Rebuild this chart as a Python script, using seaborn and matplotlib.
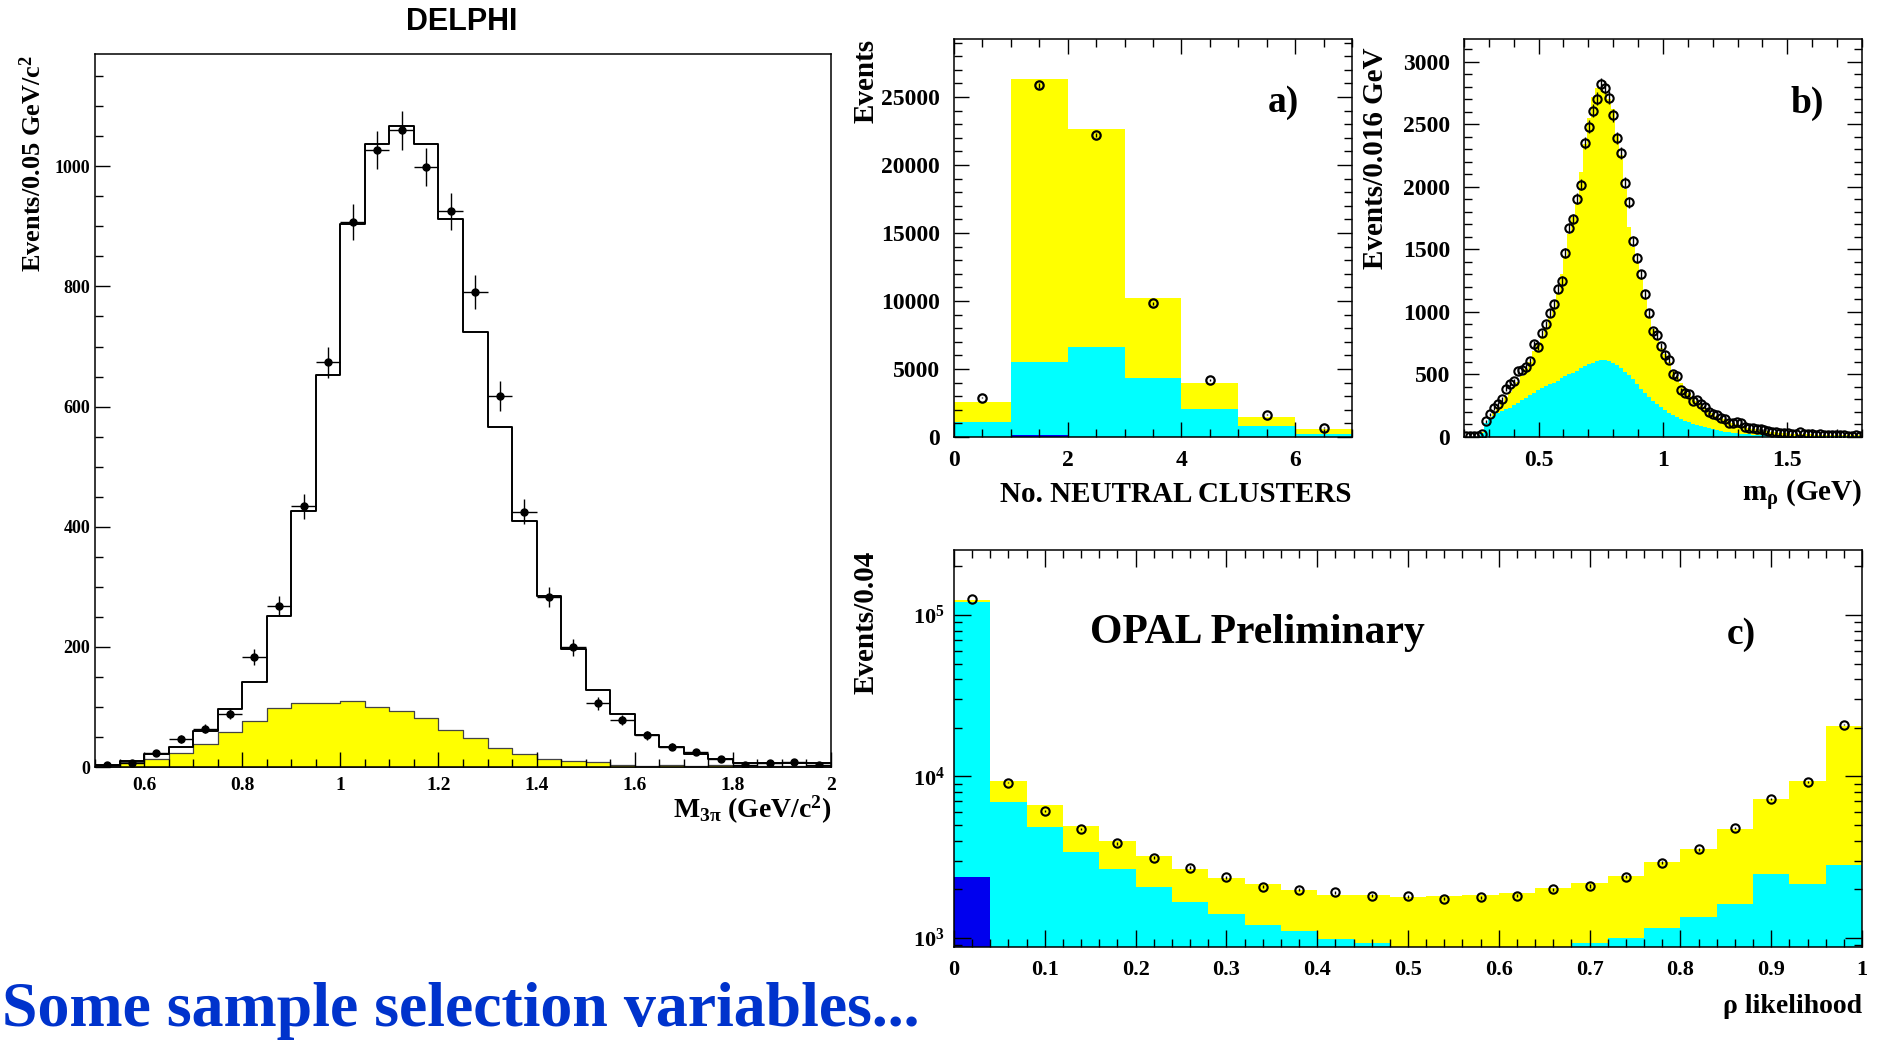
import numpy as np
import pandas as pd
import matplotlib
matplotlib.use("Agg")
import matplotlib.pyplot as plt
import seaborn as sns
from matplotlib.ticker import MultipleLocator, LogLocator, FuncFormatter, NullFormatter

# ---------------- data ----------------
# DELPHI: M_3pi, bins of 0.05 GeV from 0.5 to 2.0
delphi_lo, delphi_hi, delphi_w = 0.5, 2.0, 0.05
delphi_mc = [3, 10, 22, 33, 60, 96, 142, 252, 426, 652,
             904, 1038, 1067, 1037, 912, 724, 566, 410, 284, 196,
             128, 89, 53, 33, 21, 14, 7, 7, 7, 7]
delphi_bkg = [2, 8, 14, 24, 38, 59, 77, 99, 106, 106,
              110, 100, 94, 81, 61, 49, 32, 22, 14, 10,
              8, 4, 2, 3, 2, 3, 2, 2, 2, 2]
delphi_data = [4, 7, 24, 46, 64, 89, 183, 268, 434, 674,
               907, 1027, 1060, 999, 925, 791, 617, 425, 283, 199,
               106, 78, 53, 34, 25, 13, 4, 7, 9, 4]

# OPAL a) number of neutral clusters
a_lo, a_hi, a_w = 0, 7, 1
a_total = [2580, 26350, 22620, 10220, 4000, 1450, 570]
a_cyan = [1100, 5550, 6650, 4350, 2040, 810, 250]
a_blue = [0, 120, 0, 0, 0, 0, 0]
a_data = [2900, 25860, 22180, 9820, 4180, 1650, 690]

# OPAL b) m_rho, bins of 0.016 GeV from 0.2 to 1.8
b_lo, b_hi, b_w = 0.2, 1.8, 0.016
b_data = [8, 8, 10, 10, 20, 125, 180, 232, 267, 300,
          387, 427, 445, 525, 533, 560, 605, 741, 720, 827,
          900, 992, 1064, 1184, 1248, 1472, 1667, 1741, 1904, 2016,
          2347, 2480, 2608, 2704, 2819, 2792, 2709, 2571, 2392, 2267,
          2032, 1877, 1565, 1429, 1301, 1139, 992, 845, 811, 728,
          659, 613, 501, 485, 373, 352, 341, 285, 293, 267,
          240, 200, 187, 173, 155, 147, 115, 112, 120, 115,
          80, 75, 75, 67, 64, 59, 48, 40, 37, 35,
          32, 32, 27, 27, 37, 27, 21, 20, 18, 20,
          17, 15, 14, 15, 12, 12, 10, 10, 12, 10]
b_total = [0, 0, 0, 0, 40, 100, 160, 200, 240, 280,
           320, 360, 400, 440, 490, 540, 600, 690, 740, 810,
           880, 960, 1040, 1140, 1300, 1450, 1620, 1760, 1860, 2120,
           2340, 2550, 2720, 2790, 2790, 2760, 2700, 2620, 2420, 2250,
           1980, 1680, 1520, 1400, 1270, 1100, 960, 860, 780, 710,
           660, 600, 530, 480, 430, 390, 350, 320, 290, 260,
           235, 210, 190, 170, 155, 140, 125, 112, 100, 90,
           82, 74, 67, 60, 55, 50, 45, 41, 37, 34,
           31, 29, 27, 25, 23, 22, 21, 20, 19, 18,
           17, 16, 15, 15, 14, 14, 13, 13, 12, 12]
b_cyan = [0, 0, 0, 0, 30, 110, 150, 170, 190, 205,
          220, 235, 255, 275, 295, 315, 335, 355, 375, 390,
          405, 420, 435, 450, 470, 485, 500, 515, 530, 550,
          565, 580, 595, 605, 612, 612, 605, 592, 572, 548,
          520, 495, 460, 420, 385, 350, 320, 290, 265, 240,
          215, 195, 175, 160, 145, 130, 118, 106, 95, 86,
          78, 70, 62, 55, 48, 43, 38, 34, 30, 27,
          24, 21, 19, 17, 15, 13, 12, 11, 10, 10,
          9, 9, 8, 8, 8, 7, 7, 7, 6, 6,
          6, 6, 5, 5, 5, 5, 5, 5, 5, 5]

# OPAL c) rho likelihood, bins of 0.04
c_lo, c_hi, c_w = 0.0, 1.0, 0.04
c_total = [123200, 9380, 6670, 4950, 4000, 3230, 2660, 2340, 2150, 1970,
           1840, 1840, 1790, 1810, 1840, 1890, 2030, 2200, 2430, 2940,
           3570, 4720, 7300, 9380, 20390]
c_cyan = [120200, 6960, 4840, 3420, 2660, 2060, 1660, 1410, 1210, 1110,
          990, 930, 860, 840, 830, 850, 870, 930, 1000, 1160,
          1350, 1630, 2490, 2160, 2830]
c_blue = [2400, 0, 0, 0, 0, 0, 0, 0, 0, 0,
          0, 0, 0, 0, 0, 0, 0, 0, 0, 0,
          0, 0, 0, 0, 0]
c_data = [124900, 9160, 6130, 4720, 3850, 3140, 2730, 2380, 2080, 1990,
          1920, 1830, 1810, 1750, 1790, 1830, 2000, 2100, 2400, 2930,
          3540, 4810, 7230, 9250, 20870]

YELLOW = "#ffff00"
CYAN = "#00ffff"
BLUE = "#0000ee"
TITLE_BLUE = "#0033cc"

# ---------------- style ----------------
sns.set_style("ticks")
plt.rcParams.update({
    "font.family": ["Liberation Serif", "DejaVu Serif"],
    "font.weight": "bold",
    "axes.labelweight": "bold",
    "mathtext.fontset": "custom",
    "mathtext.rm": "Liberation Serif:bold",
    "mathtext.it": "Liberation Serif:italic:bold",
    "mathtext.bf": "Liberation Serif:bold",
    "mathtext.default": "rm",
    "axes.edgecolor": "black",
    "axes.linewidth": 1.1,
    "text.color": "black",
    "axes.labelcolor": "black",
    "xtick.color": "black",
    "ytick.color": "black",
    "axes.axisbelow": False,
})

W, H = 1883, 1041
fig = plt.figure(figsize=(W / 100, H / 100), dpi=100)


def pos(l, t, r, b):
    return [l / W, 1 - b / H, (r - l) / W, (b - t) / H]


def edges_of(lo, hi, n):
    return np.linspace(lo, hi, n + 1)


def hist(ax, edges, values, fill=True, **kw):
    centers = (edges[:-1] + edges[1:]) / 2
    df = pd.DataFrame({"x": centers, "w": values})
    sns.histplot(data=df, x="x", weights="w", bins=list(edges), element="step",
                 fill=fill, ax=ax, **kw)


gfmt = FuncFormatter(lambda v, p: "%g" % round(v, 6))

# ---------------- DELPHI ----------------
ax_d = fig.add_axes(pos(95, 54, 831, 767))
d_edges = edges_of(delphi_lo, delphi_hi, len(delphi_mc))
d_centers = (d_edges[:-1] + d_edges[1:]) / 2
hist(ax_d, d_edges, delphi_bkg, color=YELLOW, alpha=1, edgecolor="#444444", linewidth=0.9)
hist(ax_d, d_edges, delphi_mc, fill=False, color="black", linewidth=1.4)
ax_d.errorbar(d_centers, delphi_data, xerr=delphi_w / 2, yerr=np.sqrt(delphi_data),
              fmt="o", color="black", ms=5, elinewidth=1.0, capsize=0, zorder=6)
ax_d.set_xlim(delphi_lo, delphi_hi)
ax_d.set_ylim(0, 1187)
ax_d.xaxis.set_major_locator(MultipleLocator(0.2))
ax_d.xaxis.set_minor_locator(MultipleLocator(0.05))
ax_d.yaxis.set_major_locator(MultipleLocator(200))
ax_d.yaxis.set_minor_locator(MultipleLocator(50))
ax_d.xaxis.set_major_formatter(gfmt)
ax_d.tick_params(which="both", direction="in", top=False, right=False, width=1)
ax_d.tick_params(which="major", length=10.8)
ax_d.tick_params(which="minor", length=5.5)
ax_d.tick_params(axis="x", labelsize=14, pad=7.5)
ax_d.tick_params(axis="y", labelsize=13, pad=3.5)
for s in ax_d.spines.values():
    s.set_visible(True)
ax_d.set_ylabel("Events/0.05 GeV/c$^{2}$", fontsize=19, loc="top")
ax_d.yaxis.label.set_va("center")
ax_d.yaxis.set_label_coords(33 / W, 1 - 55 / H, transform=fig.transFigure)
ax_d.set_xlabel(r"M$_{3\pi}$ (GeV/c$^{2}$)", fontsize=20, loc="right")
ax_d.xaxis.label.set_va("baseline")
ax_d.xaxis.set_label_coords(831 / W, 1 - 818 / H, transform=fig.transFigure)
fig.text(462 / W, 1 - 22 / H, "DELPHI", family=["Liberation Sans", "DejaVu Sans"],
         fontweight="bold", fontsize=22, ha="center", va="center")

# ---------------- OPAL a) ----------------
ax_a = fig.add_axes(pos(954, 39, 1352, 437))
a_edges = edges_of(a_lo, a_hi, len(a_total))
a_centers = (a_edges[:-1] + a_edges[1:]) / 2
hist(ax_a, a_edges, a_total, color=YELLOW, alpha=1, linewidth=0)
hist(ax_a, a_edges, a_cyan, color=CYAN, alpha=1, linewidth=0)
hist(ax_a, a_edges, a_blue, color=BLUE, alpha=1, linewidth=0)
ax_a.errorbar(a_centers, a_data, yerr=np.sqrt(a_data), fmt="o", mfc="none", mec="black",
              mew=1.6, ms=6, ecolor="black", elinewidth=1.0, capsize=0, zorder=6)
ax_a.set_xlim(a_lo, a_hi)
ax_a.set_ylim(0, 29270)
ax_a.xaxis.set_major_locator(MultipleLocator(2))
ax_a.xaxis.set_minor_locator(MultipleLocator(0.5))
ax_a.yaxis.set_major_locator(MultipleLocator(5000))
ax_a.yaxis.set_minor_locator(MultipleLocator(1000))
ax_a.set_ylabel("Events", fontsize=21, loc="top")
ax_a.yaxis.label.set_va("center")
ax_a.yaxis.set_label_coords(866 / W, 1 - 39 / H, transform=fig.transFigure)
ax_a.set_xlabel("No. NEUTRAL CLUSTERS", fontsize=21, loc="right")
ax_a.xaxis.label.set_va("baseline")
ax_a.xaxis.set_label_coords(1352 / W, 1 - 502 / H, transform=fig.transFigure)
fig.text(1283 / W, 1 - 103 / H, "a)", fontsize=27, ha="center", va="center")

# ---------------- OPAL b) ----------------
ax_b = fig.add_axes(pos(1464, 39, 1862, 437))
b_edges = edges_of(b_lo, b_hi, len(b_total))
b_centers = (b_edges[:-1] + b_edges[1:]) / 2
hist(ax_b, b_edges, b_total, color=YELLOW, alpha=1, linewidth=0)
hist(ax_b, b_edges, b_cyan, color=CYAN, alpha=1, linewidth=0)
ax_b.errorbar(b_centers, b_data, yerr=np.sqrt(b_data), fmt="o", mfc="none", mec="black",
              mew=1.5, ms=6, ecolor="black", elinewidth=1.0, capsize=0, zorder=6)
ax_b.set_xlim(b_lo, b_hi)
ax_b.set_ylim(0, 3180)
ax_b.xaxis.set_major_locator(MultipleLocator(0.5))
ax_b.xaxis.set_minor_locator(MultipleLocator(0.1))
ax_b.yaxis.set_major_locator(MultipleLocator(500))
ax_b.yaxis.set_minor_locator(MultipleLocator(100))
ax_b.xaxis.set_major_formatter(gfmt)
ax_b.set_ylabel("Events/0.016 GeV", fontsize=21, loc="top")
ax_b.yaxis.label.set_va("center")
ax_b.yaxis.set_label_coords(1376 / W, 1 - 47 / H, transform=fig.transFigure)
ax_b.set_xlabel("m$_{ρ}$ (GeV)", fontsize=21, loc="right")
ax_b.xaxis.label.set_va("baseline")
ax_b.xaxis.set_label_coords(1862 / W, 1 - 502 / H, transform=fig.transFigure)
fig.text(1807 / W, 1 - 103 / H, "b)", fontsize=27, ha="center", va="center")

for ax in (ax_a, ax_b):
    ax.tick_params(which="both", direction="in", top=True, right=True, width=1)
    ax.tick_params(which="major", length=10.8, labelsize=17)
    ax.tick_params(which="minor", length=5.8)
    ax.tick_params(axis="x", pad=9.5)
    ax.tick_params(axis="y", pad=10)

# ---------------- OPAL c) ----------------
ax_c = fig.add_axes(pos(954, 550, 1862, 947))
c_edges = edges_of(c_lo, c_hi, len(c_total))
c_centers = (c_edges[:-1] + c_edges[1:]) / 2
hist(ax_c, c_edges, c_total, color=YELLOW, alpha=1, linewidth=0)
hist(ax_c, c_edges, c_cyan, color=CYAN, alpha=1, linewidth=0)
hist(ax_c, c_edges, c_blue, color=BLUE, alpha=1, linewidth=0)
ax_c.errorbar(c_centers, c_data, yerr=np.sqrt(c_data), fmt="o", mfc="none", mec="black",
              mew=1.5, ms=6, ecolor="black", elinewidth=1.0, capsize=0, zorder=6)
ax_c.set_yscale("log")
ax_c.set_xlim(c_lo, c_hi)
ax_c.set_ylim(880, 2.52e5)
ax_c.xaxis.set_major_locator(MultipleLocator(0.1))
ax_c.xaxis.set_minor_locator(MultipleLocator(0.02))
ax_c.xaxis.set_major_formatter(gfmt)
ax_c.yaxis.set_major_locator(LogLocator(base=10))
ax_c.yaxis.set_minor_locator(LogLocator(base=10, subs=np.arange(2, 10)))
ax_c.yaxis.set_minor_formatter(NullFormatter())
ax_c.tick_params(which="both", direction="in", top=True, right=True, width=1)
ax_c.tick_params(which="major", length=12, labelsize=16)
ax_c.tick_params(which="minor", length=5.8)
ax_c.tick_params(axis="x", pad=9.5)
ax_c.tick_params(axis="y", pad=6.5)
ax_c.set_ylabel("Events/0.04", fontsize=21, loc="top")
ax_c.yaxis.label.set_va("center")
ax_c.yaxis.set_label_coords(866 / W, 1 - 551 / H, transform=fig.transFigure)
ax_c.set_xlabel("ρ likelihood", fontsize=20, loc="right")
ax_c.xaxis.label.set_va("baseline")
ax_c.xaxis.set_label_coords(1862 / W, 1 - 1013 / H, transform=fig.transFigure)
fig.text(1090 / W, 1 - 643 / H, "OPAL Preliminary", fontsize=30, ha="left", va="baseline")
fig.text(1741 / W, 1 - 635 / H, "c)", fontsize=27, ha="center", va="center")

# ---------------- page title ----------------
fig.text(2 / W, 1 - 1026 / H, "Some sample selection variables...", color=TITLE_BLUE,
         fontsize=46, fontweight="bold", ha="left", va="baseline")

fig.savefig("out.png", dpi=100)
